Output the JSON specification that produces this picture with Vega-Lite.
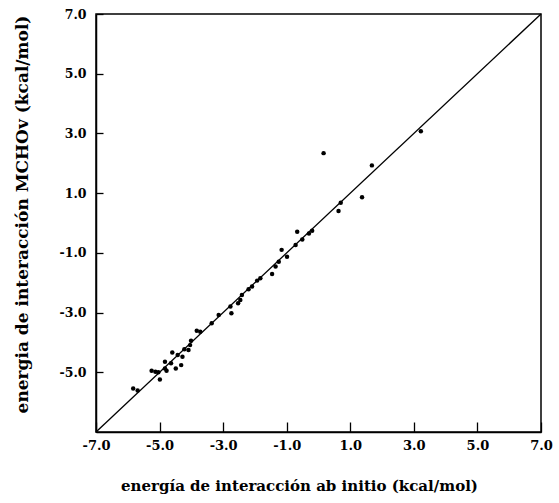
{
  "$schema": "https://vega.github.io/schema/vega-lite/v6.json",
  "width": 445,
  "height": 418,
  "autosize": {"type": "none"},
  "padding": {"left": 96, "top": 14, "right": 18, "bottom": 71},
  "background": "white",
  "config": {
    "view": {"stroke": "black", "strokeWidth": 1.5},
    "axis": {
      "grid": false,
      "domainColor": "black",
      "domainWidth": 1.5,
      "tickColor": "black",
      "tickWidth": 1.3,
      "labelFlush": false,
      "labelFont": "DejaVu Serif",
      "labelFontWeight": "bold",
      "labelFontSize": 12.5,
      "labelColor": "black",
      "titleFont": "DejaVu Serif",
      "titleFontWeight": "bold",
      "titleColor": "black"
    }
  },
  "encoding": {
    "x": {
      "field": "x", "type": "quantitative",
      "scale": {"domain": [-7, 7], "nice": false},
      "axis": {
        "values": [-7, -5, -3, -1, 1, 3, 5, 7],
        "labelExpr": "replace(format(datum.value, '.1f'), '−', '-')",
        "tickSize": -10,
        "labelPadding": 17,
        "labelFontSize": 13,
        "title": "energía de interacción ab initio (kcal/mol)",
        "titleFontSize": 15,
        "titleX": 203,
        "titleY": 53,
        "titleBaseline": "middle",
        "titleAlign": "center"
      }
    },
    "y": {
      "field": "y", "type": "quantitative",
      "scale": {"domain": [-7, 7], "nice": false},
      "axis": {
        "values": [-5, -3, -1, 1, 3, 5, 7],
        "labelExpr": "replace(format(datum.value, '.1f'), '−', '-')",
        "tickSize": -7,
        "labelPadding": 17,
        "title": "energia de interacción MCHOv (kcal/mol)",
        "titleFontSize": 17,
        "titleX": -74,
        "titleY": 200,
        "titleAngle": -90,
        "titleBaseline": "middle",
        "titleAlign": "center"
      }
    }
  },
  "layer": [
    {
      "data": {"values": [{"x": -7, "y": -7}, {"x": 7, "y": 7}]},
      "mark": {"type": "line", "color": "black", "strokeWidth": 1.3}
    },
    {
      "data": {
        "values": [
          {"x": -5.83, "y": -5.54}, {"x": -5.69, "y": -5.61}, {"x": -4.99, "y": -5.24},
          {"x": -5.25, "y": -4.95}, {"x": -5.13, "y": -4.98}, {"x": -5.04, "y": -5.0},
          {"x": -4.83, "y": -4.87}, {"x": -4.78, "y": -4.95}, {"x": -4.83, "y": -4.65},
          {"x": -4.64, "y": -4.7}, {"x": -4.49, "y": -4.87}, {"x": -4.32, "y": -4.76},
          {"x": -4.6, "y": -4.34}, {"x": -4.43, "y": -4.42}, {"x": -4.28, "y": -4.48},
          {"x": -4.22, "y": -4.23}, {"x": -4.09, "y": -4.25}, {"x": -4.04, "y": -4.09},
          {"x": -4.01, "y": -3.94}, {"x": -3.83, "y": -3.61}, {"x": -3.72, "y": -3.64},
          {"x": -3.36, "y": -3.36}, {"x": -3.14, "y": -3.08}, {"x": -2.74, "y": -3.02},
          {"x": -2.77, "y": -2.8}, {"x": -2.53, "y": -2.69}, {"x": -2.46, "y": -2.58},
          {"x": -2.41, "y": -2.41}, {"x": -2.2, "y": -2.22}, {"x": -2.09, "y": -2.13},
          {"x": -1.93, "y": -1.93}, {"x": -1.83, "y": -1.85}, {"x": -1.46, "y": -1.71},
          {"x": -1.35, "y": -1.46}, {"x": -1.25, "y": -1.3}, {"x": -1.16, "y": -0.9},
          {"x": -0.99, "y": -1.13}, {"x": -0.72, "y": -0.74}, {"x": -0.67, "y": -0.29},
          {"x": -0.51, "y": -0.55}, {"x": -0.3, "y": -0.35}, {"x": -0.2, "y": -0.26},
          {"x": 0.16, "y": 2.34}, {"x": 0.63, "y": 0.4}, {"x": 0.7, "y": 0.68},
          {"x": 1.37, "y": 0.86}, {"x": 1.68, "y": 1.93}, {"x": 3.22, "y": 3.07}
        ]
      },
      "mark": {"type": "circle", "color": "black", "opacity": 1, "size": 20}
    }
  ]
}
